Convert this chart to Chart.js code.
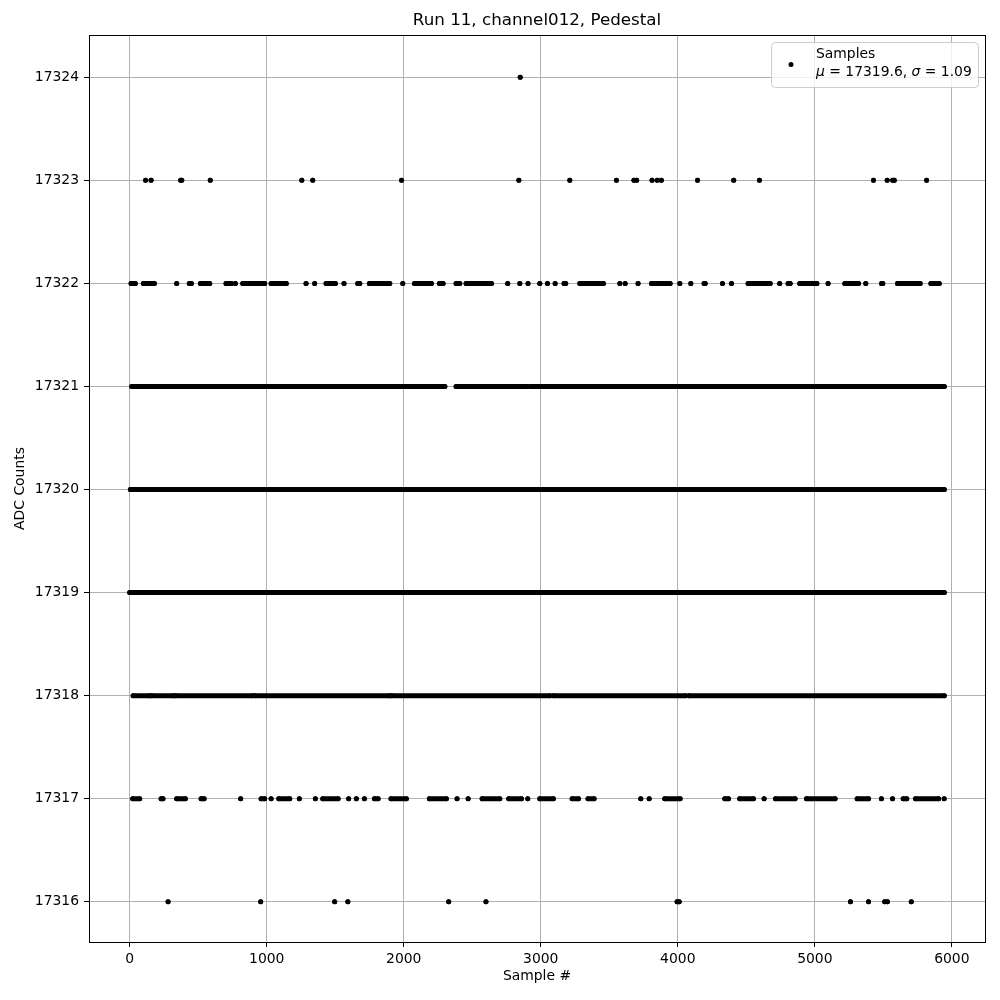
<!DOCTYPE html>
<html>
<head>
<meta charset="utf-8">
<title>Run 11, channel012, Pedestal</title>
<script src="https://cdn.jsdelivr.net/npm/chart.js@4.4.1/dist/chart.umd.min.js"></script>
<style>
  body { margin: 0; background: #ffffff; }
  #wrap { width: 1000px; height: 1000px; }
</style>
</head>
<body>
<div id="wrap"><canvas id="chart" width="1000" height="1000"></canvas></div>
<script>
// ADC levels and the sample ranges [first, last] seen at each level
const levels = [17316, 17317, 17318, 17319, 17320, 17321, 17322, 17323, 17324];

const runs17316 = [[280,280],[956,956],[1496,1496],[1592,1592],[2328,2328],[2600,2600],[3995,3995],[4010,4010],
    [5260,5260],[5392,5392],[5510,5510],[5530,5530],[5704,5704]];

const runs17317 = [[22,73],[229,243],[343,406],[521,543],[810,810],[959,985],[1032,1032],[1088,1168],[1238,1238],
    [1355,1355],[1409,1521],[1598,1598],[1654,1654],[1713,1713],[1786,1813],[1907,2019],[2187,2311],[2389,2389],
    [2470,2470],[2572,2701],[2766,2859],[2905,2905],[2993,3092],[3229,3275],[3345,3389],[3730,3730],[3791,3791],
    [3905,4017],[4343,4370],[4452,4552],[4630,4630],[4713,4856],[4939,5148],[5309,5392],[5486,5486],[5567,5567],
    [5645,5671],[5735,5903],[5944,5944]];

const runs17318 = [[25,145],[160,320],[335,898],[915,1897],[1912,3068],[3092,4055],[4080,5945]];

const runs17319 = [[0,5945]];

const runs17320 = [[5,5945]];

const runs17321 = [[15,1130],[1147,2300],[2382,2905],[2928,5945]];

const runs17322 = [[10,41],[100,180],[343,343],[435,450],[516,584],[703,742],[771,771],[825,985],[1032,1143],
    [1287,1287],[1350,1350],[1433,1501],[1564,1564],[1664,1679],[1749,1898],[1993,1993],[2078,2202],[2260,2287],
    [2382,2409],[2455,2640],[2759,2759],[2847,2847],[2907,2907],[2993,2993],[3049,3049],[3105,3105],[3170,3182],
    [3285,3457],[3577,3577],[3616,3616],[3710,3710],[3808,3944],[4015,4015],[4095,4095],[4192,4200],[4326,4326],
    [4392,4392],[4513,4674],[4744,4744],[4805,4820],[4890,5015],[5097,5097],[5219,5319],[5372,5372],[5487,5496],
    [5603,5769],[5847,5908]];

const runs17323 = [[116,116],[156,156],[372,372],[380,380],[588,588],[1256,1256],[1336,1336],[1984,1984],
    [2840,2840],[3212,3212],[3552,3552],[3680,3680],[3700,3700],[3812,3812],[3850,3850],[3880,3880],[4144,4144],
    [4408,4408],[4596,4596],[5428,5428],[5528,5528],[5568,5568],[5580,5580],[5816,5816]];

const runs17324 = [[2850,2850]];

const allRuns = [runs17316, runs17317, runs17318, runs17319, runs17320, runs17321, runs17322, runs17323, runs17324];

const xTicks = [0, 1000, 2000, 3000, 4000, 5000, 6000];
const legendLabel = 'Samples';
const meanValue = '17319.6';
const sigmaValue = '1.09';

const FONT = 'DejaVu Sans';

// build one scatter dataset per level, runs joined as thick segments, broken by nulls
function buildPoints(level, runs) {
    const pts = [];
    runs.forEach(function (r) {
        pts.push({x: r[0], y: level});
        if (r[1] !== r[0]) pts.push({x: r[1], y: level});
        pts.push({x: null, y: null});
    });
    return pts;
}

const datasets = levels.map(function (lv, i) {
    return {
        label: legendLabel,
        data: buildPoints(lv, allRuns[i]),
        showLine: true,
        spanGaps: false,
        borderColor: '#000000',
        backgroundColor: '#000000',
        borderWidth: 5,
        borderCapStyle: 'round',
        borderJoinStyle: 'round',
        pointRadius: 2.5,
        pointBorderWidth: 0,
        pointHoverRadius: 2.5,
        tension: 0
    };
});

// spines + legend box
const framePlugin = {
    id: 'frame',
    afterDraw: function (chart) {
        const ctx = chart.ctx;
        const a = chart.chartArea;
        ctx.save();
        ctx.strokeStyle = '#000000';
        ctx.lineWidth = 1;
        ctx.strokeRect(Math.round(a.left) + 0.5, Math.round(a.top) + 0.5,
            Math.round(a.right - a.left), Math.round(a.bottom - a.top));

        // legend
        const bx = a.right - 214, by = a.top + 7, bw = 207, bh = 45;
        ctx.beginPath();
        ctx.roundRect(bx + 0.5, by + 0.5, bw, bh, 4);
        ctx.fillStyle = 'rgba(255,255,255,0.8)';
        ctx.fill();
        ctx.strokeStyle = '#cccccc';
        ctx.stroke();

        ctx.beginPath();
        ctx.arc(bx + 20, by + 22.5, 2.5, 0, Math.PI * 2);
        ctx.fillStyle = '#000000';
        ctx.fill();

        ctx.textBaseline = 'middle';
        ctx.textAlign = 'left';
        ctx.font = '13.9px "' + FONT + '"';
        let tx = bx + 45;
        ctx.fillText(legendLabel, tx, by + 12);

        const y2 = by + 30;
        const parts = [
            ['\u03bc', true], [' = ' + meanValue + ', ', false],
            ['\u03c3', true], [' = ' + sigmaValue, false]
        ];
        parts.forEach(function (p) {
            ctx.font = (p[1] ? 'italic ' : '') + '13.9px "' + FONT + '"';
            ctx.fillText(p[0], tx, y2);
            tx += ctx.measureText(p[0]).width;
        });
        ctx.restore();
    }
};

const ctx = document.getElementById('chart').getContext('2d');

new Chart(ctx, {
    type: 'scatter',
    data: { datasets: datasets },
    options: {
        responsive: false,
        devicePixelRatio: 1,
        animation: false,
        events: [],
        layout: { padding: { left: 0, right: 15, top: 0, bottom: 0 } },
        plugins: {
            legend: { display: false },
            tooltip: { enabled: false },
            title: {
                display: true,
                text: 'Run 11, channel012, Pedestal',
                color: '#000000',
                fullSize: false,
                font: { family: FONT, size: 16.7, weight: 'normal' },
                padding: { top: 11, bottom: 4 }
            }
        },
        scales: {
            x: {
                type: 'linear',
                min: -297,
                max: 6242,
                afterFit: function (scale) { scale.height = 58; },
                afterBuildTicks: function (scale) {
                    scale.ticks = xTicks.map(function (v) { return {value: v}; });
                },
                ticks: {
                    includeBounds: false,
                    color: '#000000',
                    padding: 4,
                    maxRotation: 0,
                    font: { family: FONT, size: 13.9 },
                    callback: function (v) { return String(v); }
                },
                grid: {
                    color: '#b0b0b0',
                    lineWidth: 1,
                    tickColor: '#000000',
                    tickLength: 5,
                    tickWidth: 1
                },
                border: { display: false },
                title: {
                    display: true,
                    text: 'Sample #',
                    color: '#000000',
                    font: { family: FONT, size: 13.9 },
                    padding: { top: 0, bottom: 15 }
                }
            },
            y: {
                type: 'linear',
                min: 17315.61,
                max: 17324.41,
                afterFit: function (scale) { scale.width = 89; },
                afterBuildTicks: function (scale) {
                    scale.ticks = levels.map(function (v) { return {value: v}; });
                },
                ticks: {
                    includeBounds: false,
                    color: '#000000',
                    padding: 5,
                    font: { family: FONT, size: 13.9 },
                    callback: function (v) { return String(v); }
                },
                grid: {
                    color: '#b0b0b0',
                    lineWidth: 1,
                    tickColor: '#000000',
                    tickLength: 5,
                    tickWidth: 1
                },
                border: { display: false },
                title: {
                    display: true,
                    text: 'ADC Counts',
                    color: '#000000',
                    font: { family: FONT, size: 13.9 },
                    padding: { top: 12, bottom: 0 }
                }
            }
        }
    },
    plugins: [framePlugin]
});
</script>
</body>
</html>
